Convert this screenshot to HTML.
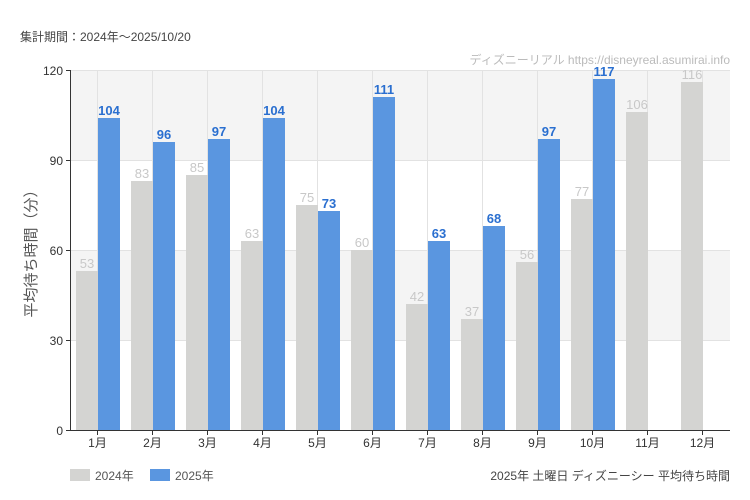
<!DOCTYPE html>
<html><head><meta charset="utf-8"><style>
body{margin:0;background:#fff;}
svg{display:block;font-family:"Liberation Sans","Noto Sans CJK JP",sans-serif;}
.n{font-family:"Liberation Sans Narrow","Liberation Sans","Noto Sans CJK JP",sans-serif;}
.g{fill:#c8c8c8;font-size:13px;text-anchor:middle;}
.b{fill:#2a6fd0;font-size:13px;font-weight:bold;text-anchor:middle;}
</style></head><body>
<svg width="750" height="500" xmlns="http://www.w3.org/2000/svg">
<rect width="750" height="500" fill="#fff"/>
<text x="20" y="41" font-size="12" fill="#444">集計期間：2024年～2025/10/20</text>
<text x="730" y="64" font-size="12" fill="#bbb" text-anchor="end" class="n">ディズニーリアル https://disneyreal.asumirai.info</text>
<rect x="70" y="70" width="660" height="90" fill="#f4f4f4"/>
<rect x="70" y="250" width="660" height="90" fill="#f4f4f4"/>
<g stroke="#e2e2e2" stroke-width="1">
<line x1="70" y1="70.5" x2="730" y2="70.5"/><line x1="70" y1="160.5" x2="730" y2="160.5"/>
<line x1="70" y1="250.5" x2="730" y2="250.5"/><line x1="70" y1="340.5" x2="730" y2="340.5"/>
<line x1="97.5" y1="70" x2="97.5" y2="430"/><line x1="152.5" y1="70" x2="152.5" y2="430"/><line x1="207.5" y1="70" x2="207.5" y2="430"/><line x1="262.5" y1="70" x2="262.5" y2="430"/><line x1="317.5" y1="70" x2="317.5" y2="430"/><line x1="372.5" y1="70" x2="372.5" y2="430"/><line x1="427.5" y1="70" x2="427.5" y2="430"/><line x1="482.5" y1="70" x2="482.5" y2="430"/><line x1="537.5" y1="70" x2="537.5" y2="430"/><line x1="592.5" y1="70" x2="592.5" y2="430"/><line x1="647.5" y1="70" x2="647.5" y2="430"/><line x1="702.5" y1="70" x2="702.5" y2="430"/>
</g>
<g fill="#d4d4d2">
<rect x="76" y="271" width="22" height="159"/>
<rect x="131" y="181" width="22" height="249"/>
<rect x="186" y="175" width="22" height="255"/>
<rect x="241" y="241" width="22" height="189"/>
<rect x="296" y="205" width="22" height="225"/>
<rect x="351" y="250" width="22" height="180"/>
<rect x="406" y="304" width="22" height="126"/>
<rect x="461" y="319" width="22" height="111"/>
<rect x="516" y="262" width="22" height="168"/>
<rect x="571" y="199" width="22" height="231"/>
<rect x="626" y="112" width="22" height="318"/>
<rect x="681" y="82" width="22" height="348"/>
</g>
<g fill="#5a96e0">
<rect x="98" y="118" width="22" height="312"/>
<rect x="153" y="142" width="22" height="288"/>
<rect x="208" y="139" width="22" height="291"/>
<rect x="263" y="118" width="22" height="312"/>
<rect x="318" y="211" width="22" height="219"/>
<rect x="373" y="97" width="22" height="333"/>
<rect x="428" y="241" width="22" height="189"/>
<rect x="483" y="226" width="22" height="204"/>
<rect x="538" y="139" width="22" height="291"/>
<rect x="593" y="79" width="22" height="351"/>
</g>
<g class="n">
<text class="g" x="87" y="268">53</text>
<text class="g" x="142" y="178">83</text>
<text class="g" x="197" y="172">85</text>
<text class="g" x="252" y="238">63</text>
<text class="g" x="307" y="202">75</text>
<text class="g" x="362" y="247">60</text>
<text class="g" x="417" y="301">42</text>
<text class="g" x="472" y="316">37</text>
<text class="g" x="527" y="259">56</text>
<text class="g" x="582" y="196">77</text>
<text class="g" x="637" y="109">106</text>
<text class="g" x="692" y="79">116</text>
<text class="b" x="109" y="115">104</text>
<text class="b" x="164" y="139">96</text>
<text class="b" x="219" y="136">97</text>
<text class="b" x="274" y="115">104</text>
<text class="b" x="329" y="208">73</text>
<text class="b" x="384" y="94">111</text>
<text class="b" x="439" y="238">63</text>
<text class="b" x="494" y="223">68</text>
<text class="b" x="549" y="136">97</text>
<text class="b" x="604" y="76">117</text>
</g>
<g stroke="#333" stroke-width="1">
<line x1="70.5" y1="70" x2="70.5" y2="430"/><line x1="70" y1="430.5" x2="730" y2="430.5"/>
<line x1="66" y1="70.5" x2="70" y2="70.5"/><line x1="66" y1="160.5" x2="70" y2="160.5"/><line x1="66" y1="250.5" x2="70" y2="250.5"/><line x1="66" y1="340.5" x2="70" y2="340.5"/><line x1="66" y1="430.5" x2="70" y2="430.5"/>
<line x1="97.5" y1="430" x2="97.5" y2="435"/><line x1="152.5" y1="430" x2="152.5" y2="435"/><line x1="207.5" y1="430" x2="207.5" y2="435"/><line x1="262.5" y1="430" x2="262.5" y2="435"/><line x1="317.5" y1="430" x2="317.5" y2="435"/><line x1="372.5" y1="430" x2="372.5" y2="435"/><line x1="427.5" y1="430" x2="427.5" y2="435"/><line x1="482.5" y1="430" x2="482.5" y2="435"/><line x1="537.5" y1="430" x2="537.5" y2="435"/><line x1="592.5" y1="430" x2="592.5" y2="435"/><line x1="647.5" y1="430" x2="647.5" y2="435"/><line x1="702.5" y1="430" x2="702.5" y2="435"/>
</g>
<g font-size="12" fill="#333" text-anchor="end">
<text x="63" y="75">120</text><text x="63" y="165">90</text><text x="63" y="255">60</text><text x="63" y="345">30</text><text x="63" y="435">0</text>
</g>
<g font-size="12" fill="#333" text-anchor="middle">
<text x="97.5" y="447">1月</text><text x="152.5" y="447">2月</text><text x="207.5" y="447">3月</text><text x="262.5" y="447">4月</text><text x="317.5" y="447">5月</text><text x="372.5" y="447">6月</text><text x="427.5" y="447">7月</text><text x="482.5" y="447">8月</text><text x="537.5" y="447">9月</text><text x="592.5" y="447">10月</text><text x="647.5" y="447">11月</text><text x="702.5" y="447">12月</text>
</g>
<text transform="translate(36,250) rotate(-90)" font-size="15" fill="#555" text-anchor="middle">平均待ち時間（分）</text>
<rect x="70" y="469" width="20" height="12" fill="#d4d4d2"/>
<text x="95" y="480" font-size="12" fill="#555">2024年</text>
<rect x="150" y="469" width="20" height="12" fill="#5a96e0"/>
<text x="175" y="480" font-size="12" fill="#555">2025年</text>
<text x="730" y="480" font-size="12" fill="#444" text-anchor="end">2025年 土曜日 ディズニーシー 平均待ち時間</text>
</svg>
</body></html>
